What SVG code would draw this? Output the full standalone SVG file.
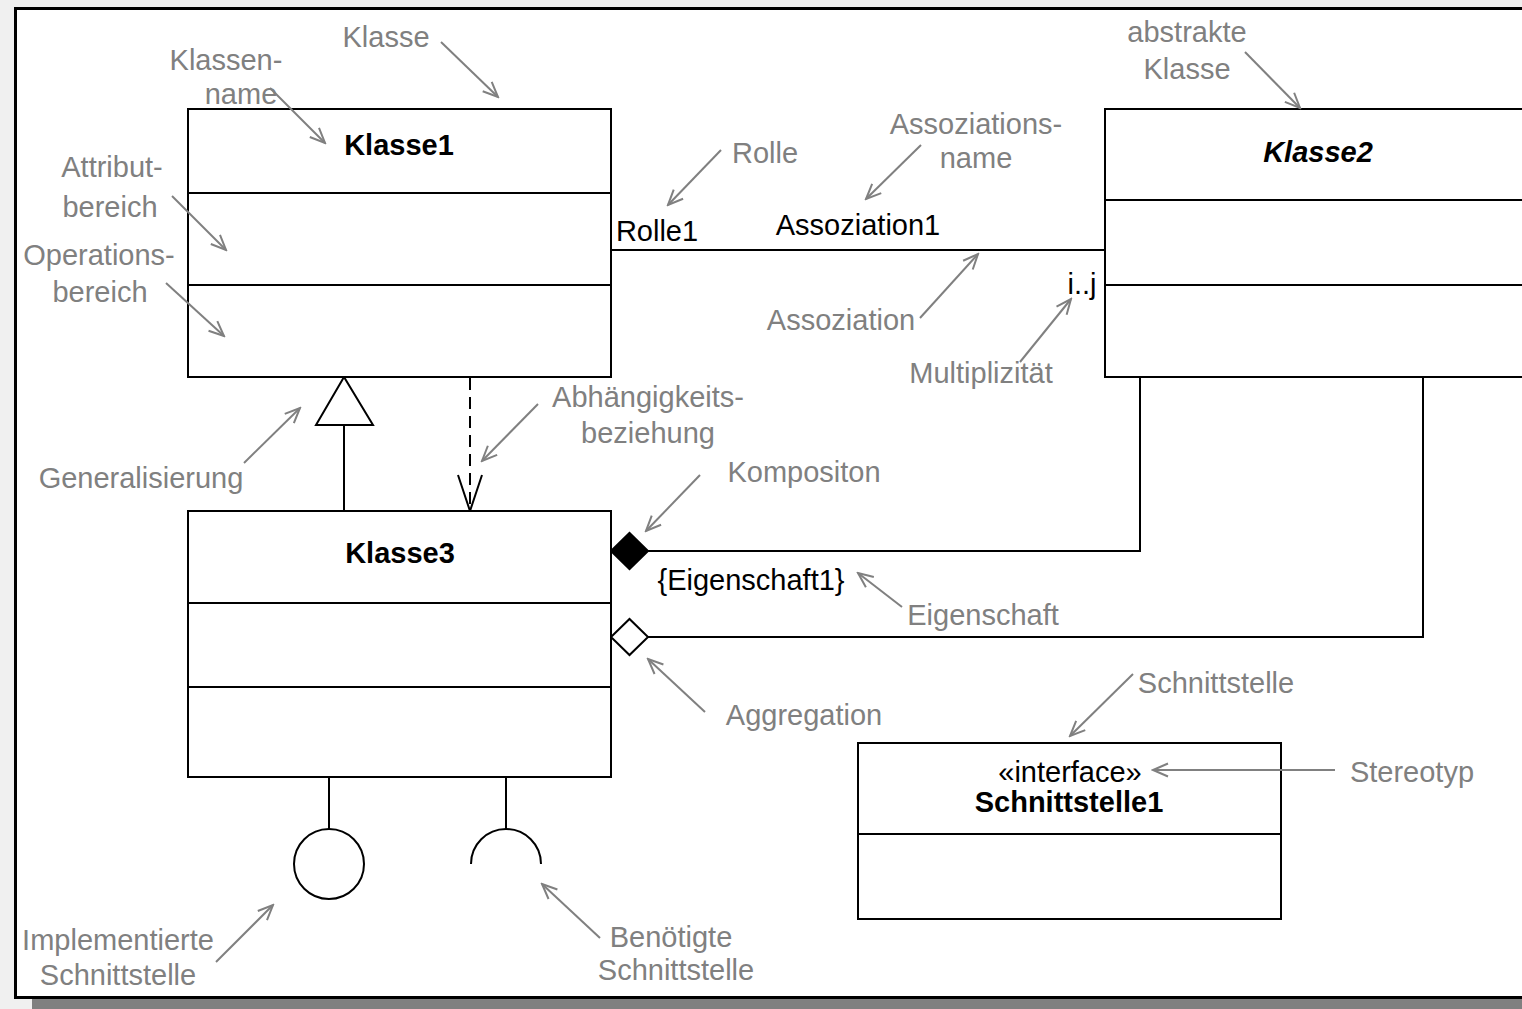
<svg xmlns="http://www.w3.org/2000/svg" width="1522" height="1009" viewBox="0 0 1522 1009">
  <style>
    .box { fill: #fff; stroke: #000; stroke-width: 2; }
    .sep { stroke: #000; stroke-width: 2; fill: none; }
    .line { stroke: #000; stroke-width: 2; fill: none; }
    .note { font-family: "Liberation Sans", Arial, sans-serif; font-size: 29px; fill: #808080; text-anchor: middle; }
    .lbl { font-family: "Liberation Sans", Arial, sans-serif; font-size: 29px; fill: #000; text-anchor: middle; }
    .name { font-family: "Liberation Sans", Arial, sans-serif; font-size: 29px; font-weight: bold; fill: #000; text-anchor: middle; }
    .ptr { stroke: #808080; stroke-width: 2; fill: none; marker-end: url(#open); }
  </style>
  <defs>
    <marker id="open" viewBox="-17 -9 19 18" refX="0" refY="0" markerWidth="19" markerHeight="18" markerUnits="userSpaceOnUse" orient="auto">
      <path d="M-15,-6.5 L0,0 L-15,6.5" fill="none" stroke="#808080" stroke-width="2"/>
    </marker>
  </defs>

  <!-- page background, drop shadow and frame -->
  <rect x="0" y="0" width="1522" height="1009" fill="#f0f0f0"/>
  <rect x="32" y="998" width="1500" height="11" fill="#808080"/>
  <rect x="15.5" y="8.5" width="1520" height="989" fill="#fff" stroke="#000" stroke-width="3"/>

  <!-- connectors -->
  <g id="connectors">
    <!-- association Klasse1 - Klasse2 -->
    <line class="line" x1="611" y1="250" x2="1105" y2="250"/>
    <!-- dependency Klasse1 -> Klasse3 -->
    <line class="line" x1="470" y1="378" x2="470" y2="508" stroke-width="2.5" stroke-dasharray="12,7"/>
    <path class="line" d="M458,475 L470,511 L482,475"/>
    <!-- generalization Klasse3 -> Klasse1 -->
    <line class="line" x1="344" y1="425" x2="344" y2="511"/>
    <polygon points="344,377 316,425 373,425" fill="#fff" stroke="#000" stroke-width="2"/>
    <!-- composition -->
    <polyline class="line" points="648,551 1140,551 1140,377"/>
    <polygon points="611,551 629.5,533 648,551 629.5,569" fill="#000" stroke="#000" stroke-width="2"/>
    <!-- aggregation -->
    <polyline class="line" points="648,637 1423,637 1423,377"/>
    <polygon points="611,637 629.5,619 648,637 629.5,655" fill="#fff" stroke="#000" stroke-width="2"/>
    <!-- provided interface (lollipop) -->
    <line class="line" x1="329" y1="777" x2="329" y2="829"/>
    <circle cx="329" cy="864" r="35" fill="#fff" stroke="#000" stroke-width="2"/>
    <!-- required interface (socket) -->
    <line class="line" x1="506" y1="777" x2="506" y2="829"/>
    <path class="line" d="M471,864 A35,35 0 0 1 541,864"/>
  </g>

  <!-- classes -->
  <g id="klasse1">
    <rect class="box" x="188" y="109" width="423" height="268"/>
    <line class="sep" x1="188" y1="193" x2="611" y2="193"/>
    <line class="sep" x1="188" y1="285" x2="611" y2="285"/>
    <text class="name" x="399" y="155">Klasse1</text>
  </g>
  <g id="klasse2">
    <rect class="box" x="1105" y="109" width="430" height="268"/>
    <line class="sep" x1="1105" y1="200" x2="1535" y2="200"/>
    <line class="sep" x1="1105" y1="285" x2="1535" y2="285"/>
    <text class="name" x="1318" y="162" font-style="italic">Klasse2</text>
  </g>
  <g id="klasse3">
    <rect class="box" x="188" y="511" width="423" height="266"/>
    <line class="sep" x1="188" y1="603" x2="611" y2="603"/>
    <line class="sep" x1="188" y1="687" x2="611" y2="687"/>
    <text class="name" x="400" y="563">Klasse3</text>
  </g>
  <g id="schnittstelle1">
    <rect class="box" x="858" y="743" width="423" height="176"/>
    <line class="sep" x1="858" y1="834" x2="1281" y2="834"/>
    <text class="lbl" x="1070" y="782">«interface»</text>
    <text class="name" x="1069" y="812">Schnittstelle1</text>
  </g>

  <!-- labels on the model elements -->
  <g id="labels">
    <text class="lbl" x="657" y="241">Rolle1</text>
    <text class="lbl" x="858" y="235">Assoziation1</text>
    <text class="lbl" x="1082" y="294">i..j</text>
    <text class="lbl" x="751" y="590">{Eigenschaft1}</text>
  </g>

  <!-- explanatory notes -->
  <g id="notes">
    <text class="note" x="386" y="47">Klasse</text>
    <line class="ptr" x1="441" y1="42" x2="498" y2="97"/>

    <text class="note" x="226" y="70">Klassen-</text>
    <text class="note" x="241" y="104">name</text>
    <line class="ptr" x1="270" y1="88" x2="325" y2="143"/>

    <text class="note" x="112" y="177">Attribut-</text>
    <text class="note" x="110" y="217">bereich</text>
    <line class="ptr" x1="172" y1="196" x2="226" y2="250"/>

    <text class="note" x="99" y="265">Operations-</text>
    <text class="note" x="100" y="302">bereich</text>
    <line class="ptr" x1="166" y1="283" x2="224" y2="336"/>

    <text class="note" x="141" y="488">Generalisierung</text>
    <line class="ptr" x1="244" y1="463" x2="300" y2="408"/>

    <text class="note" x="648" y="407">Abhängigkeits-</text>
    <text class="note" x="648" y="443">beziehung</text>
    <line class="ptr" x1="538" y1="404" x2="482" y2="461"/>

    <text class="note" x="765" y="163">Rolle</text>
    <line class="ptr" x1="721" y1="150" x2="668" y2="205"/>

    <text class="note" x="976" y="134">Assoziations-</text>
    <text class="note" x="976" y="168">name</text>
    <line class="ptr" x1="921" y1="145" x2="866" y2="199"/>

    <text class="note" x="841" y="330">Assoziation</text>
    <line class="ptr" x1="920" y1="318" x2="978" y2="254"/>

    <text class="note" x="981" y="383">Multiplizität</text>
    <line class="ptr" x1="1020" y1="362" x2="1071" y2="299"/>

    <text class="note" x="1187" y="42">abstrakte</text>
    <text class="note" x="1187" y="79">Klasse</text>
    <line class="ptr" x1="1245" y1="52" x2="1300" y2="108"/>

    <text class="note" x="804" y="482">Kompositon</text>
    <line class="ptr" x1="700" y1="475" x2="646" y2="531"/>

    <text class="note" x="983" y="625">Eigenschaft</text>
    <line class="ptr" x1="902" y1="607" x2="858" y2="573"/>

    <text class="note" x="804" y="725">Aggregation</text>
    <line class="ptr" x1="705" y1="712" x2="648" y2="659"/>

    <text class="note" x="1216" y="693">Schnittstelle</text>
    <line class="ptr" x1="1133" y1="674" x2="1070" y2="736"/>

    <text class="note" x="1412" y="782">Stereotyp</text>
    <line class="ptr" x1="1335" y1="770" x2="1153" y2="770"/>

    <text class="note" x="118" y="950">Implementierte</text>
    <text class="note" x="118" y="985">Schnittstelle</text>
    <line class="ptr" x1="216" y1="962" x2="273" y2="905"/>

    <text class="note" x="671" y="947">Benötigte</text>
    <text class="note" x="676" y="980">Schnittstelle</text>
    <line class="ptr" x1="600" y1="938" x2="542" y2="884"/>
  </g>
</svg>
